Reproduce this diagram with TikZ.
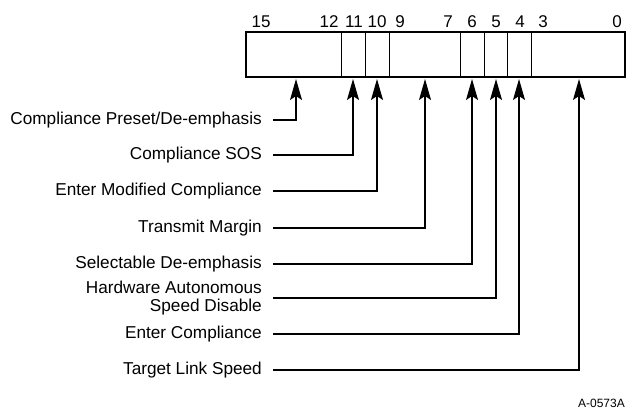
\documentclass[tikz,border=0pt]{standalone}
\usepackage{fontspec}
\setmainfont{Liberation Sans}
\usetikzlibrary{arrows.meta}
\begin{document}
\begin{tikzpicture}[x=1pt,y=-1pt,
  lab/.style={anchor=east,inner sep=0pt,font=\fontsize{17.2}{18.5}\selectfont,align=right},
  bitnum/.style={inner sep=0pt,font=\fontsize{17}{18}\selectfont},
  conn/.style={line width=1.2pt,-{Stealth[length=21pt,width=12pt,inset=4pt]}},
  reg/.style={line width=1.1pt}]
\useasboundingbox (0,0) rectangle (626,413);
% register box
\draw[reg] (246,32) rectangle (625,77);
\foreach \xx in {341,365,389,460,484,507,531}
  \draw[line width=0.8pt] (\xx,32) -- (\xx,77);
% bit numbers
\node[bitnum] (b15) at (261,22) {15};
\node[bitnum] (b12) at (329,22) {12};
\node[bitnum] (b11) at (354,22) {11};
\node[bitnum] (b10) at (377,22) {10};
\node[bitnum] (b9) at (400,22) {9};
\node[bitnum] (b7) at (448,22) {7};
\node[bitnum] (b6) at (472,22) {6};
\node[bitnum] (b5) at (496,22) {5};
\node[bitnum] (b4) at (520,22) {4};
\node[bitnum] (b3) at (543,22) {3};
\node[bitnum] (b0) at (617,22) {0};
% arrow targets
\coordinate (t1) at (296,79);
\coordinate (t2) at (353,79);
\coordinate (t3) at (377,79);
\coordinate (t4) at (425,79);
\coordinate (t5) at (472,79);
\coordinate (t6) at (496,79);
\coordinate (t7) at (519,79);
\coordinate (t8) at (579,79);
% labels
\node[lab] (l1) at (262,120) {Compliance Preset/De-emphasis};
\node[lab] (l2) at (262,155) {Compliance SOS};
\node[lab] (l3) at (262,191) {Enter Modified Compliance};
\node[lab] (l4) at (262,228) {Transmit Margin};
\node[lab] (l5) at (262,264) {Selectable De-emphasis};
\node[lab] (l6) at (262,298) {Hardware Autonomous\\Speed Disable};
\node[lab] (l7) at (262,334) {Enter Compliance};
\node[lab] (l8) at (262,370) {Target Link Speed};
% connectors
\draw[conn] ([xshift=11pt]l1.east) -| (t1);
\draw[conn] ([xshift=11pt]l2.east) -| (t2);
\draw[conn] ([xshift=11pt]l3.east) -| (t3);
\draw[conn] ([xshift=11pt]l4.east) -| (t4);
\draw[conn] ([xshift=11pt]l5.east) -| (t5);
\draw[conn] ([xshift=11pt]l6.east) -| (t6);
\draw[conn] ([xshift=11pt]l7.east) -| (t7);
\draw[conn] ([xshift=11pt]l8.east) -| (t8);
% figure id
\node[anchor=east,inner sep=0pt,font=\fontsize{12}{14}\selectfont] (fid) at (625,403) {A-0573A};
\end{tikzpicture}
\end{document}
